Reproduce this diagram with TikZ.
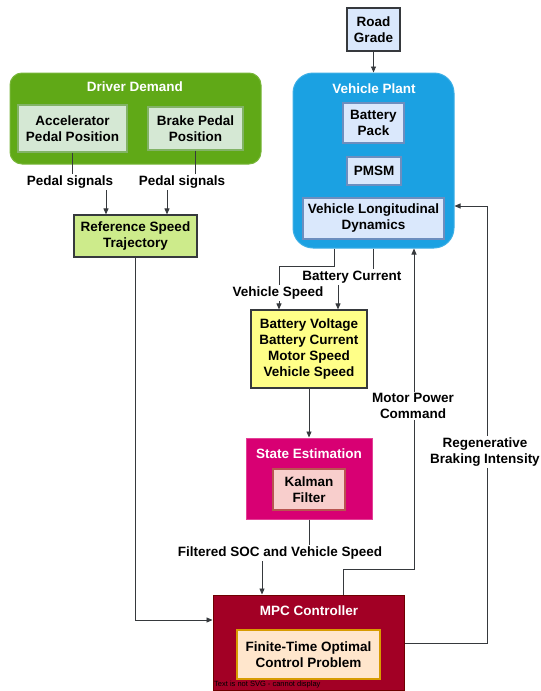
\documentclass[tikz,border=0pt]{standalone}
\usepackage{fontspec}
\setmainfont{Liberation Sans}
\usetikzlibrary{arrows.meta}
\definecolor{ddgreen}{HTML}{60A917}
\definecolor{palegreen}{HTML}{D5E8D4}
\definecolor{edgegreen}{HTML}{82B366}
\definecolor{limegreen}{HTML}{CDEB8B}
\definecolor{plantblue}{HTML}{1BA1E2}
\definecolor{paleblue}{HTML}{DAE8FC}
\definecolor{edgeblue}{HTML}{6C8EBF}
\definecolor{paleyellow}{HTML}{FFFF88}
\definecolor{estpink}{HTML}{D80073}
\definecolor{palered}{HTML}{F8CECC}
\definecolor{edgered}{HTML}{B85450}
\definecolor{mpcred}{HTML}{A20025}
\definecolor{darkred}{HTML}{6F0000}
\definecolor{paleorange}{HTML}{FFE6CC}
\definecolor{edgeorange}{HTML}{D79B00}
\definecolor{linegray}{HTML}{36393D}
\begin{document}
\begin{tikzpicture}[x=1pt,y=-1pt,
    every node/.style={font=\bfseries\fontsize{13.5}{16}\selectfont, align=center, inner sep=0pt},
    block/.style={draw=linegray, line width=1.2pt},
    group/.style={line width=1pt, rounded corners=12pt},
    title/.style={text=white},
    wire/.style={draw=linegray, line width=0.9pt, -{Triangle[length=6pt,width=5pt]}},
    plain/.style={draw=linegray, line width=0.9pt},
    lbl/.style={fill=white, inner sep=1.5pt}]
        \useasboundingbox[fill=white] (0,0) rectangle (541,691);
        % Driver demand %
        \node [group, fill=ddgreen, draw=ddgreen!85!white, minimum width=251pt, minimum height=91pt] (driver) at (135.5,118.5) {};
        \node [title] (drivertitle) at (135,87) {Driver Demand};
        \node [draw=edgegreen, fill=palegreen, line width=1.2pt, minimum width=109pt, minimum height=47pt] (accel) at (72.5,128.5) {Accelerator\\Pedal Position};
        \node [draw=edgegreen, fill=palegreen, line width=1.2pt, minimum width=95pt, minimum height=43pt] (brake) at (195.5,128.5) {Brake Pedal\\Position};
        \node [block, fill=limegreen, minimum width=123pt, minimum height=42pt] (ref) at (135.5,236) {Reference Speed\\Trajectory};
        % Vehicle plant %
        \node [block, fill=paleblue, minimum width=53pt, minimum height=43pt] (road) at (373.5,29.5) {Road\\Grade};
        \node [group, rounded corners=20pt, fill=plantblue, draw=plantblue!85!white, minimum width=161pt, minimum height=175pt] (plant) at (373.5,160.5) {};
        \node [title] (planttitle) at (374,89) {Vehicle Plant};
        \node [draw=edgeblue, fill=paleblue, line width=1.2pt, minimum width=61pt, minimum height=40pt] (battery) at (373.5,123) {Battery\\Pack};
        \node [draw=edgeblue, fill=paleblue, line width=1.2pt, minimum width=54pt, minimum height=28pt] (pmsm) at (374,171) {PMSM};
        \node [draw=edgeblue, fill=paleblue, line width=1.2pt, minimum width=141pt, minimum height=41pt] (dynamics) at (373.5,218.5) {Vehicle Longitudinal\\Dynamics};
        % Measurements and estimation %
        \node [block, fill=paleyellow, minimum width=116pt, minimum height=78pt] (meas) at (309,349) {Battery Voltage\\Battery Current\\Motor Speed\\Vehicle Speed};
        \node [fill=estpink, draw=estpink!75!white, line width=1pt, minimum width=126pt, minimum height=81pt] (estim) at (309,478.5) {};
        \node [title] (estimtitle) at (309,454) {State Estimation};
        \node [draw=edgered, fill=palered, line width=1.2pt, minimum width=72pt, minimum height=41pt] (kalman) at (309,489.5) {Kalman\\Filter};
        % Controller %
        \node [fill=mpcred, draw=darkred, line width=1pt, minimum width=191pt, minimum height=95pt] (mpc) at (308.5,642.5) {};
        \node [title] (mpctitle) at (309,611) {MPC Controller};
        \node [draw=edgeorange, fill=paleorange, line width=1.2pt, minimum width=143pt, minimum height=49pt] (ftocp) at (308.5,654.5) {Finite-Time Optimal\\Control Problem};
        \node [anchor=west, font=\fontsize{7.5}{8}\selectfont, text=black] (svgnote) at (214,685) {Text is not SVG - cannot display};
        % Arrows %
        \draw [wire] (accel.south) -- ++(0,30) -| ([xshift=-29.5pt]ref.north);
        \draw [wire] (brake.south) -- ++(0,32) -| ([xshift=31.5pt]ref.north);
        \node [lbl] (pedalA) at (70,182) {Pedal signals};
        \node [lbl] (pedalB) at (182,182) {Pedal signals};
        \draw [wire] (ref.south) |- ([yshift=22.5pt]mpc.west);
        \draw [wire] (road.south) -- (plant.north);
        \draw [wire] ([xshift=-39.5pt]plant.south) -- ++(0,18) -| ([xshift=-30pt]meas.north);
        \draw [wire] (plant.south) -- ++(0,29) -| ([xshift=29pt]meas.north);
        \node [lbl] (speedlbl) at (278,293) {Vehicle Speed};
        \node [lbl] (currentlbl) at (352,277) {Battery Current};
        \draw [wire] (meas.south) -- (estim.north);
        \draw [wire] (estim.south) -- ++(0,34) -| ([xshift=-46.5pt]mpc.north);
        \node [lbl] (soclbl) at (280,553) {Filtered SOC and Vehicle Speed};
        \draw [wire] ([xshift=34.5pt]mpc.north) -- ++(0,-25) -| ([xshift=40.5pt]plant.south);
        \node [lbl] (powerlbl) at (413,406) {Motor Power\\Command};
        \draw [wire] ([yshift=-0.5pt]mpc.east) -- ++(83,0) |- ([yshift=-45.5pt]plant.east);
        \node [lbl] (regenlbl) at (485,452) {Regenerative\\Braking Intensity};
\end{tikzpicture}
\end{document}
